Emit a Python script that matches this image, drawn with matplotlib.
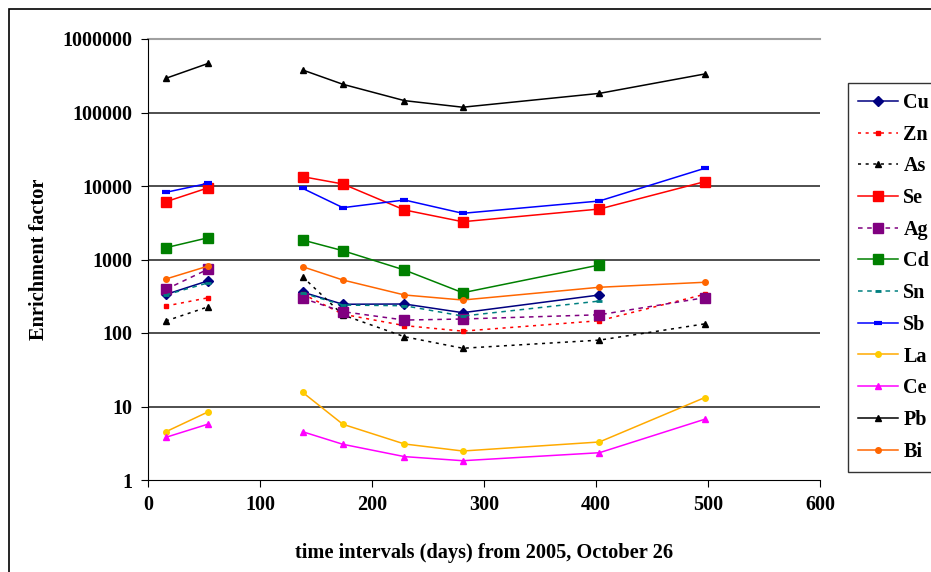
import matplotlib.pyplot as plt
from matplotlib.patches import Rectangle
from matplotlib.ticker import FixedLocator, NullLocator
import numpy as np

plt.rcParams['font.family'] = ['Liberation Serif', 'DejaVu Serif']
plt.rcParams['font.weight'] = 'bold'

nan = np.nan
days = [16, 54, 138, 174, 229, 281, 403, 497]

Cu = [335, 515, 360, 246, 248, 189, 329, nan]
Zn = [233, 302, 340, 180, 126, 106, 147, 336]
As = [146, 228, 583, 176, 89, 62, 80, 133]
Se = [6110, 9480, 13400, 10650, 4720, 3265, 4860, 11450]
Ag = [393, 743, 297, 195, 150, 155, 177, 302]
Cd = [1448, 1982, 1842, 1318, 719, 353, 842, nan]
Sn = [330, 483, 350, 240, 235, 170, 272, nan]
Sb = [8210, 10900, 9310, 5070, 6450, 4250, 6250, 17400]
La = [4.54, 8.5, 15.6, 5.73, 3.09, 2.48, 3.29, 13.2]
Ce = [3.81, 5.78, 4.54, 3.06, 2.08, 1.83, 2.35, 6.70]
Pb = [292000, 467000, 379000, 242000, 145000, 118000, 182000, 334000]
Bi = [543, 816, 798, 526, 329, 281, 419, 490]

series = [
    ('Cu', Cu, dict(color='#000080', ls='-', marker='D', ms=5)),
    ('Zn', Zn, dict(color='#FF0000', ls=(0, (2, 3)), marker='s', ms=3.5)),
    ('As', As, dict(color='black', ls=(0, (2, 3)), marker='^', ms=4.5)),
    ('Se', Se, dict(color='#FF0000', ls='-', marker='s', ms=7)),
    ('Ag', Ag, dict(color='#800080', ls=(0, (3, 3)), marker='s', ms=7)),
    ('Cd', Cd, dict(color='#008000', ls='-', marker='s', ms=7)),
    ('Sn', Sn, dict(color='#008080', ls=(0, (3, 3)), marker='_', ms=5, mew=2)),
    ('Sb', Sb, dict(color='#0000FF', ls='-', marker='_', ms=6, mew=3)),
    ('La', La, dict(color='#FFAA00', ls='-', marker='o', ms=4, mfc='#FFCC00', mec='#FFCC00')),
    ('Ce', Ce, dict(color='#FF00FF', ls='-', marker='^', ms=4.5)),
    ('Pb', Pb, dict(color='black', ls='-', marker='^', ms=4.5)),
    ('Bi', Bi, dict(color='#FF6600', ls='-', marker='o', ms=4)),
]

fig = plt.figure(figsize=(9.31, 5.72), dpi=100)
ax = fig.add_axes([148 / 931, 92 / 572, 672 / 931, 441 / 572])

# outer chart frame (cut off at right and bottom like the original)
fig.patches.append(Rectangle((9 / 931, -0.1), 1.2, 1.1 - 9 / 572, transform=fig.transFigure,
                             fill=False, ec='black', lw=1.2))

# two sampling campaigns -> draw as two separate segments
segments = [slice(0, 2), slice(2, None)]
handles = []
for name, vals, style in series:
    x = np.array(days, dtype=float)
    y = np.array(vals, dtype=float)
    for k, seg in enumerate(segments):
        line, = ax.plot(x[seg], y[seg], lw=1.1, **style)
        if k == 0:
            line.set_label(name)
            handles.append(line)

ax.set_yscale('log')
ax.set_ylim(1, 1e6)
ax.set_xlim(0, 600)
yt = [1, 10, 100, 1000, 10000, 100000, 1000000]
ax.yaxis.set_major_locator(FixedLocator(yt))
ax.yaxis.set_minor_locator(NullLocator())
ax.set_yticklabels([str(v) for v in yt])
ax.set_xticks(range(0, 601, 100))
for v in yt[1:-1]:
    ax.axhline(v, color='#404040', lw=1.3, zorder=0)
ax.axhline(yt[-1], color='#a0a0a0', lw=1.5, zorder=0, clip_on=False)

ax.spines['top'].set_visible(False)
ax.spines['right'].set_visible(False)
ax.tick_params(direction='out', length=5, labelsize=14.5, pad=6)
for lab in ax.get_xticklabels() + ax.get_yticklabels():
    lab.set_fontweight('bold')

ax.set_ylabel('Enrichment factor', fontsize=14.7, fontweight='bold', labelpad=10)
ax.set_xlabel('time intervals (days) from 2005, October 26', fontsize=14.7,
              fontweight='bold', labelpad=20)

leg = fig.legend(handles=handles, loc='upper left', bbox_to_anchor=(848 / 931, 1 - 83 / 572),
                 prop={'size': 14.5, 'weight': 'bold'}, frameon=True, fancybox=False,
                 edgecolor='black', handlelength=2.0, handletextpad=0.25, labelspacing=0.58,
                 borderaxespad=0, borderpad=0.5)
leg.get_frame().set_linewidth(1.0)

fig.savefig('out.png', dpi=100)
